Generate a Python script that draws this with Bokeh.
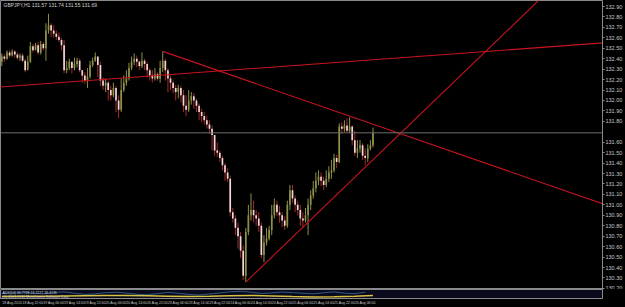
from bokeh.plotting import figure
from bokeh.layouts import column
from bokeh.models import Range1d, FixedTicker, Label, Span, ColumnDataSource, NumeralTickFormatter
from bokeh.embed import file_html
from bokeh.resources import INLINE

# ---------------- data ----------------
chart_title = "GBPJPY,H1  131.57 131.74 131.55 131.69"
first_open = 132.37
closes = [132.42, 132.40, 132.46, 132.43, 132.47, 132.44, 132.41, 132.43, 132.38, 132.29,
          132.37, 132.52, 132.48, 132.53, 132.46, 132.54, 132.50, 132.67, 132.72, 132.67,
          132.64, 132.61, 132.58, 132.53, 132.29, 132.31, 132.37, 132.31, 132.35, 132.38,
          132.29, 132.24, 132.19, 132.23, 132.34, 132.38, 132.42, 132.34, 132.19, 132.14,
          132.17, 132.10, 132.05, 132.12, 132.00, 131.91, 132.10, 132.17, 132.21, 132.31,
          132.37, 132.40, 132.37, 132.33, 132.38, 132.35, 132.29, 132.24, 132.21, 132.25,
          132.21, 132.31, 132.38, 132.29, 132.21, 132.17, 132.12, 132.08, 132.12, 132.05,
          131.95, 131.91, 132.00, 132.04, 132.00, 131.95, 131.89, 131.85, 131.81, 131.77,
          131.73, 131.67, 131.52, 131.50, 131.45, 131.38, 131.31, 131.25, 130.93, 130.87,
          130.78, 130.70, 130.56, 130.32, 130.74, 130.90, 130.95, 130.90, 130.87, 130.80,
          130.52, 130.64, 130.68, 130.76, 130.90, 131.00, 130.93, 130.90, 130.85, 130.80,
          131.00, 131.14, 131.06, 131.00, 130.95, 130.87, 130.85, 130.90, 131.00, 131.09,
          131.16, 131.23, 131.27, 131.23, 131.19, 131.25, 131.31, 131.33, 131.45, 131.41,
          131.75, 131.73, 131.76, 131.71, 131.75, 131.62, 131.50, 131.54, 131.57, 131.47,
          131.45, 131.54, 131.57, 131.69]
highs = [132.45, 132.44, 132.48, 132.48, 132.49, 132.48, 132.46, 132.45, 132.45, 132.40,
         132.43, 132.56, 132.54, 132.55, 132.56, 132.57, 132.56, 132.74, 132.83, 132.74,
         132.72, 132.67, 132.65, 132.60, 132.58, 132.38, 132.40, 132.37, 132.41, 132.41,
         132.40, 132.29, 132.27, 132.31, 132.38, 132.41, 132.46, 132.40, 132.37, 132.22,
         132.21, 132.19, 132.14, 132.17, 132.14, 132.05, 132.21, 132.24, 132.29, 132.36,
         132.42, 132.45, 132.43, 132.38, 132.46, 132.40, 132.37, 132.31, 132.29, 132.31,
         132.27, 132.38, 132.47, 132.40, 132.31, 132.24, 132.19, 132.15, 132.15, 132.14,
         132.10, 132.05, 132.10, 132.08, 132.07, 132.02, 131.97, 131.92, 131.89, 131.85,
         131.81, 131.76, 131.64, 131.60, 131.52, 131.47, 131.40, 131.35, 131.28, 130.97,
         130.90, 130.83, 130.74, 130.61, 130.78, 131.00, 131.11, 131.04, 130.95, 130.93,
         130.83, 130.71, 130.78, 130.80, 131.00, 131.06, 131.04, 130.99, 130.93, 130.89,
         131.04, 131.19, 131.19, 131.09, 131.04, 131.00, 130.93, 130.97, 131.06, 131.14,
         131.23, 131.31, 131.33, 131.31, 131.27, 131.33, 131.37, 131.43, 131.49, 131.48,
         131.78, 131.79, 131.81, 131.83, 131.84, 131.76, 131.71, 131.62, 131.62, 131.59,
         131.54, 131.58, 131.62, 131.74]
lows = [132.33, 132.37, 132.39, 132.41, 132.42, 132.41, 132.39, 132.38, 132.37, 132.27,
        132.31, 132.36, 132.46, 132.48, 132.44, 132.44, 132.48, 132.38, 132.64, 132.61,
        132.60, 132.58, 132.56, 132.48, 132.26, 132.26, 132.29, 132.26, 132.29, 132.32,
        132.27, 132.17, 132.16, 132.12, 132.21, 132.32, 132.37, 132.22, 132.14, 132.10,
        132.08, 132.00, 132.00, 132.03, 131.89, 131.83, 131.89, 132.08, 132.14, 132.19,
        132.29, 132.34, 132.32, 132.29, 132.31, 132.29, 132.22, 132.19, 132.17, 132.19,
        132.19, 132.17, 132.27, 132.19, 132.08, 132.10, 132.07, 132.00, 132.02, 131.98,
        131.89, 131.85, 131.89, 131.96, 131.92, 131.89, 131.81, 131.79, 131.77, 131.73,
        131.68, 131.52, 131.47, 131.46, 131.41, 131.33, 131.23, 131.22, 130.89, 130.83,
        130.71, 130.58, 130.49, 130.28, 130.26, 130.71, 130.85, 130.83, 130.80, 130.74,
        130.49, 130.45, 130.61, 130.66, 130.71, 130.87, 130.89, 130.83, 130.79, 130.76,
        130.78, 130.95, 131.02, 130.93, 130.90, 130.80, 130.78, 130.83, 130.71, 130.95,
        131.06, 131.12, 131.19, 131.18, 131.14, 131.17, 131.22, 131.25, 131.31, 131.35,
        131.40, 131.68, 131.70, 131.69, 131.69, 131.57, 131.47, 131.45, 131.50, 131.43,
        131.38, 131.41, 131.52, 131.55]
current_price = 131.69

price_ticks = [130.2, 130.3, 130.4, 130.5, 130.6, 130.7, 130.8, 130.9, 131.0, 131.1,
               131.2, 131.3, 131.4, 131.5, 131.6, 131.8, 131.9, 132.0, 132.1,
               132.2, 132.3, 132.4, 132.5, 132.6, 132.7, 132.8, 132.9]
date_tick_bars = [0, 8, 16, 24, 32, 40, 48, 56, 64, 72, 80, 88, 96, 104, 112, 120, 128, 136]
date_tick_labels = ["18 Aug 2010", "18 Aug 22:00", "19 Aug 06:00", "19 Aug 14:00",
                    "19 Aug 22:00", "20 Aug 06:00", "20 Aug 14:00", "20 Aug 22:00",
                    "23 Aug 06:00", "23 Aug 14:00", "23 Aug 22:00", "24 Aug 06:00",
                    "24 Aug 14:00", "24 Aug 22:00", "25 Aug 06:00", "25 Aug 14:00",
                    "25 Aug 22:00", "26 Aug 06:00"]

# trend lines: two anchor points each (bar index, price)
trend_a_bars = [0, 143]
trend_a_prices = [132.13, 132.39]
trend_b_bars = [62, 134]
trend_b_prices = [132.47, 131.85]
trend_c_bars = [94, 140]
trend_c_prices = [130.26, 131.36]

# indicator window
osc_bars = [0, 4, 8, 12, 16, 20, 24, 28, 32, 36, 40, 44, 48, 52, 56, 60, 64, 68,
            72, 76, 80, 84, 88, 92, 96, 100, 104, 108, 112, 116, 120, 124, 128, 132, 136, 140]
osc_values = [55, 62, 70, 60, 52, 66, 74, 58, 45, 52, 64, 70, 60, 48, 40, 55, 68, 58,
              46, 38, 50, 62, 75, 80, 70, 56, 62, 72, 66, 58, 52, 64, 74, 60, 54, 70]
adx_bars = [0, 8, 16, 24, 32, 40, 48, 56, 64, 72, 80, 88, 96, 104, 112, 120, 128, 136, 143]
adx_values = [22, 24, 26, 28, 30, 32, 34, 30, 26, 22, 25, 30, 34, 28, 22, 18, 20, 26, 34]
ind_texts = ["ADX(14) 24.7728 24.7277 18.4135", "(C) 2001-2010 MetaQuotes Software Corp."]

# ---------------- layout constants ----------------
W, H_MAIN, H_IND = 625, 289, 18
RIGHT = 22
PX_PER_BAR = 2.6
frame_w = W - RIGHT
x_start = -0.5
x_end = x_start + frame_w / PX_PER_BAR
PX_PER_PRICE = 104.4
y_top = 132.90 + 6 / PX_PER_PRICE
y_bot = y_top - H_MAIN / PX_PER_PRICE
DATE_FONT_PX = 3.5
LABEL_SHIFT = 4.0   # bars: moves a centred label so it starts at its bar

BG = "#000000"
GREY = "#8a8a8a"
LBL = "#c8c8c8"
BULL = "#8f8f48"
BEAR_BODY = "#f3d6d6"
BEAR_WICK = "#a52a2a"
TREND = "#c8141e"
FONT = "Liberation Sans"

opens = [first_open] + closes[:-1]
bars = list(range(len(closes)))

def split(pred):
    d = dict(bar=[], high=[], low=[], top=[], bottom=[])
    for b, o, c, h, l in zip(bars, opens, closes, highs, lows):
        if pred(o, c):
            d["bar"].append(b); d["high"].append(h); d["low"].append(l)
            d["top"].append(max(o, c)); d["bottom"].append(min(o, c) if o != c else min(o, c) - 0.004)
    return ColumnDataSource(d)

bull_src = split(lambda o, c: c >= o)
bear_src = split(lambda o, c: c < o)

p = figure(width=W, height=H_MAIN, output_backend="svg", toolbar_location=None,
           x_range=Range1d(x_start, x_end), y_range=Range1d(y_bot, y_top),
           y_axis_location="right", x_axis_location=None,
           background_fill_color=BG, border_fill_color=BG,
           min_border_left=0, min_border_top=0, min_border_bottom=0, min_border_right=RIGHT)
p.grid.visible = False
p.outline_line_color = GREY
yax = p.yaxis[0]
yax.ticker = FixedTicker(ticks=price_ticks)
yax.formatter = NumeralTickFormatter(format="0.00")
yax.major_label_text_font_size = "5.5px"
yax.major_label_text_font = FONT
yax.major_label_text_color = LBL
yax.axis_line_color = GREY
yax.major_tick_line_color = GREY
yax.major_tick_out = 2
yax.major_tick_in = 0
yax.minor_tick_line_color = None
yax.major_label_standoff = 1

p.add_layout(Span(location=current_price, dimension="width", line_color="#6e6e6e", line_width=1))

p.segment(x0="bar", y0="low", x1="bar", y1="high", source=bull_src, line_color=BULL, line_width=1)
p.vbar(x="bar", width=0.65, top="top", bottom="bottom", source=bull_src, fill_color=BULL, line_color=None)
p.segment(x0="bar", y0="low", x1="bar", y1="high", source=bear_src, line_color=BEAR_WICK, line_width=1)
p.vbar(x="bar", width=0.65, top="top", bottom="bottom", source=bear_src, fill_color=BEAR_BODY, line_color=None)

def extend(bx, py, x0, x1):
    k = (py[1] - py[0]) / (bx[1] - bx[0])
    return [x0, x1], [py[0] + k * (x0 - bx[0]), py[0] + k * (x1 - bx[0])]

for bx, py, x0 in [(trend_a_bars, trend_a_prices, x_start - 5),
                   (trend_b_bars, trend_b_prices, trend_b_bars[0]),
                   (trend_c_bars, trend_c_prices, trend_c_bars[0])]:
    xs, ys = extend(bx, py, x0, x_end + 5)
    p.line(xs, ys, line_color=TREND, line_width=1.1)

p.add_layout(Label(x=frame_w + 1, y=current_price, x_units="screen", y_units="data",
                   text=f"{current_price:.2f}", text_font_size="5.5px", text_font=FONT,
                   text_color="#000000", text_baseline="middle",
                   background_fill_color="#d8d8d8"))
p.add_layout(Label(x=3, y=H_MAIN - 7, x_units="screen", y_units="screen", text=chart_title,
                   text_font_size="5px", text_font=FONT, text_color="#d0d0d0"))

# indicator + date axis
q = figure(width=W, height=H_IND, output_backend="svg", toolbar_location=None,
           x_range=p.x_range, y_range=Range1d(0, 100),
           y_axis_location="right",
           background_fill_color="#0a0a1e", border_fill_color=BG,
           min_border_left=0, min_border_top=0, min_border_bottom=0, min_border_right=RIGHT)
q.grid.visible = False
q.outline_line_color = GREY
q.yaxis[0].ticker = FixedTicker(ticks=[])
q.yaxis[0].axis_line_color = GREY
xax = q.xaxis[0]
shifted = [b + LABEL_SHIFT for b in date_tick_bars]
xax.ticker = FixedTicker(ticks=shifted)
xax.major_label_overrides = {s: t for s, t in zip(shifted, date_tick_labels)}
xax.major_label_text_font_size = f"{DATE_FONT_PX}px"
xax.major_label_text_font = FONT
xax.major_label_text_color = LBL
xax.axis_line_color = GREY
xax.major_tick_line_color = None
xax.major_tick_out = 0
xax.major_tick_in = 0
xax.minor_tick_line_color = None
xax.major_label_standoff = 2

q.line(osc_bars, osc_values, line_color="#2f5a82", line_width=1)
q.line(adx_bars, adx_values, line_color="#d8c040", line_width=1.5)
q.add_layout(Label(x=2, y=4, x_units="screen", y_units="screen", text=ind_texts[0],
                   text_font_size="3.5px", text_font=FONT, text_color="#d0d0d0"))
q.add_layout(Label(x=2, y=0, x_units="screen", y_units="screen", text=ind_texts[1],
                   text_font_size="3.5px", text_font=FONT, text_color="#d0d0d0"))

layout = column(p, q, spacing=0, styles={"background-color": "black"})
open("out.html", "w").write(file_html(layout, INLINE))
